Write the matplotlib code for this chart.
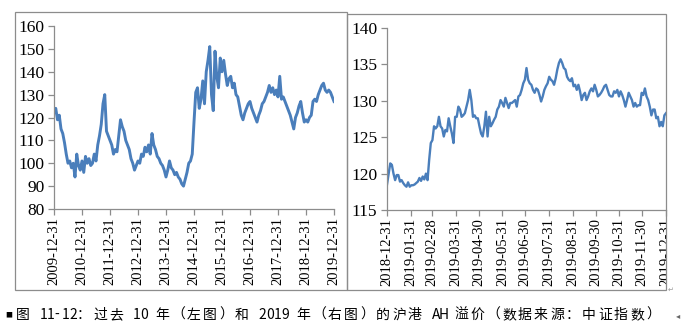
import matplotlib.pyplot as plt
from matplotlib.patches import Rectangle
from matplotlib.transforms import Bbox, TransformedBbox
import pandas as pd

# left panel: AH premium over the past 10 years (~3 weeks apart)
left_start, left_end = "2009-12-31", "2019-12-31"
left_values = [
    122, 124, 119, 121, 115, 113, 109, 104, 100, 101, 98, 100, 94, 104, 99, 97,
    101, 96, 103, 100, 102, 99, 100, 104, 101, 108, 112, 117, 126, 130, 114, 112,
    110, 108, 104, 106, 105, 112, 119, 116, 114, 110, 108, 106, 102, 100, 97, 99,
    101, 100, 104, 103, 107, 105, 108, 104, 113, 108, 106, 103, 102, 100, 99, 97,
    94, 97, 101, 98, 97, 95, 96, 94, 93, 91, 90, 93, 96, 100, 101, 104,
    118, 131, 133, 124, 128, 136, 126, 140, 145, 151, 130, 123, 149, 138, 133, 146,
    140, 145, 139, 134, 137, 138, 133, 135, 130, 129, 125, 121, 119, 122, 124, 126,
    127, 124, 122, 120, 118, 121, 123, 126, 127, 129, 131, 134, 131, 133, 130, 132,
    129, 138, 128, 129, 127, 125, 123, 121, 118, 115, 120, 122, 125, 127, 122, 118,
    119, 118, 120, 121, 127, 128, 127, 130, 132, 134, 135, 132, 131, 132, 131, 129, 127,
]
left_ticks = ["2009-12-31", "2010-12-31", "2011-12-31", "2012-12-31", "2013-12-31",
              "2014-12-31", "2015-12-31", "2016-12-31", "2017-12-31", "2018-12-31",
              "2019-12-31"]
left_yticks = [80, 90, 100, 110, 120, 130, 140, 150, 160]

# right panel: AH premium in 2019 (every ~2 days)
right_start, right_end = "2018-12-31", "2019-12-31"
right_values = [
    118.5, 120.0, 121.4, 121.2, 120.0, 119.1, 119.8, 119.8, 118.9, 119.1, 118.7, 118.4,
    118.2, 118.8, 118.2, 118.4, 118.4, 118.5, 118.7, 118.9, 119.4, 119.0, 119.6, 119.2,
    120.0, 119.1, 121.9, 124.2, 124.6, 126.5, 126.2, 126.5, 127.8, 126.5, 126.2, 125.1,
    126.0, 125.8, 127.6, 126.5, 125.5, 124.2, 127.8, 127.8, 129.2, 128.8, 127.8, 128.0,
    128.3, 129.2, 130.1, 131.5, 130.1, 127.8, 128.0, 127.6, 127.6, 126.5, 125.5, 125.1,
    126.5, 128.5, 125.1, 127.8, 126.5, 126.9, 127.4, 127.8, 128.8, 129.2, 130.1, 129.7,
    129.2, 130.4, 129.7, 129.0, 129.7, 129.7, 129.9, 130.1, 129.2, 130.6, 130.8, 131.5,
    132.4, 132.9, 134.5, 132.9, 132.4, 132.2, 131.5, 131.1, 131.7, 131.5, 130.8, 129.9,
    130.6, 131.5, 132.0, 132.4, 133.3, 132.9, 132.7, 132.2, 133.1, 134.3, 135.2, 135.7,
    135.2, 134.5, 134.3, 133.3, 132.9, 132.7, 133.1, 132.0, 132.2, 131.5, 132.2, 131.3,
    130.1, 130.8, 131.1, 130.1, 130.6, 131.3, 131.7, 131.3, 132.2, 131.5, 130.6, 130.8,
    131.1, 131.5, 132.0, 132.2, 131.5, 130.8, 130.6, 130.6, 131.3, 131.1, 131.5, 130.6,
    131.3, 130.8, 130.1, 129.2, 130.1, 131.1, 130.6, 130.1, 129.2, 129.7, 129.2, 129.4,
    129.4, 131.1, 130.8, 131.7, 130.6, 130.1, 129.2, 128.0, 128.8, 128.8, 127.6, 127.8,
    126.5, 127.1, 126.5, 128.0, 128.3,
]
right_ticks = ["2018-12-31", "2019-01-31", "2019-02-28", "2019-03-31", "2019-04-30",
               "2019-05-31", "2019-06-30", "2019-07-31", "2019-08-31", "2019-09-30",
               "2019-10-31", "2019-11-30", "2019-12-31"]
right_yticks = [115, 120, 125, 130, 135, 140]

caption = "图 11-12：过去 10 年（左图）和 2019 年（右图）的沪港 AH 溢价（数据来源：中证指数）"

LINE = "#4a7ebb"
GRAY = "#8c8c8c"
SERIF = ["Liberation Serif", "DejaVu Serif"]
CJK = ["Noto Sans CJK SC", "DejaVu Sans"]

plt.rcParams["font.family"] = SERIF


def style_axis(ax, ticks, yticks):
    for side in ["top", "right"]:
        ax.spines[side].set_visible(False)
    for side in ["left", "bottom"]:
        ax.spines[side].set_color(GRAY)
        ax.spines[side].set_linewidth(0.9)
    tick_dates = pd.to_datetime(ticks)
    ax.set_xticks(tick_dates)
    ax.set_xticklabels(ticks, rotation=90, family=SERIF, fontsize=10.5)
    ax.set_xlim(tick_dates[0], tick_dates[-1])
    ax.set_yticks(yticks)
    ax.set_yticklabels([str(v) for v in yticks], family=SERIF, fontsize=12.5)
    ax.set_ylim(yticks[0], yticks[-1])
    ax.tick_params(axis="both", direction="out", length=4, width=0.9, color=GRAY, pad=2)
    ax.tick_params(axis="y", pad=3)


fig = plt.figure(figsize=(6.84, 3.30), dpi=100)

# panel frames
fig.patches.append(Rectangle((15 / 684, 1 - 290 / 330), 332 / 684, 278 / 330,
                             transform=fig.transFigure, fill=False, edgecolor=GRAY, lw=0.9))
fig.patches.append(Rectangle((347 / 684, 1 - 290 / 330), 319 / 684, 276 / 330,
                             transform=fig.transFigure, fill=False, edgecolor=GRAY, lw=0.9))

ax1 = fig.add_axes([54 / 684, 1 - 209 / 330, 280 / 684, 183 / 330])
left_dates = pd.date_range(left_start, left_end, periods=len(left_values))
ax1.plot(left_dates, left_values, color=LINE, lw=2.1)
style_axis(ax1, left_ticks, left_yticks)

ax2 = fig.add_axes([387 / 684, 1 - 210 / 330, 279 / 684, 182 / 330])
right_dates = pd.date_range(right_start, right_end, periods=len(right_values))
ax2.plot(right_dates, right_values, color=LINE, lw=1.7)
style_axis(ax2, right_ticks, right_yticks)

# the last date label is cut by the frame of the right panel
clip = TransformedBbox(Bbox.from_extents(0, 0, 666 / 684, 1), fig.transFigure)
for lbl in ax2.get_xticklabels():
    lbl.set_clip_box(clip)
    lbl.set_clip_on(True)

# caption, set character by character to get the wide spacing of the original
fig.text(5 / 684, 1 - 315 / 330, "■", fontsize=5, va="center", ha="left", family=CJK)
x = 16.0
for ch in caption:
    fig.text(x / 684, 1 - 315 / 330, ch, fontsize=10, va="center", ha="left", family=CJK)
    x += 16.0 if ord(ch) > 0x2000 else 7.5
fig.text(676 / 684, 1 - 316 / 330, "◂", fontsize=6, va="center", ha="left",
         color="#666666", family=["DejaVu Sans"])
fig.text(668 / 684, 1 - 290 / 330, "↵", fontsize=5, va="center", ha="left",
         color="#999999", family=["DejaVu Sans"])

fig.savefig("out.png", dpi=100)
